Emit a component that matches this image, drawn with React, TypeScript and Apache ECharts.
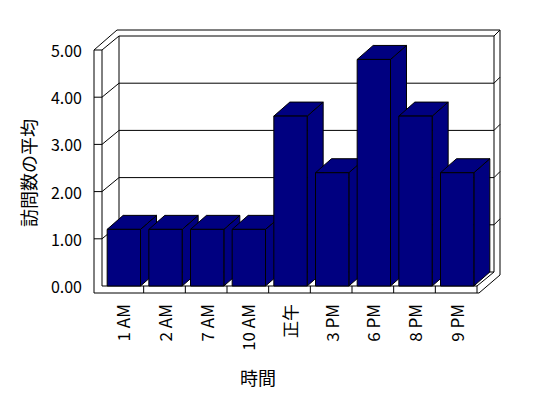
import React, { useEffect, useRef } from 'react';
import * as echarts from 'echarts';

const categories = ['1 AM', '2 AM', '7 AM', '10 AM', '正午', '3 PM', '6 PM', '8 PM', '9 PM'];
const visitAvg = [1.2, 1.2, 1.2, 1.2, 3.6, 2.4, 4.8, 3.6, 2.4];
const yTicks = [0, 1, 2, 3, 4, 5];
const yTitle = '訪問数の平均';
const xTitle = '時間';

const FONT = '"Noto Sans CJK JP", "Noto Sans", sans-serif';
const DX = 17;
const DY = -14;
const BAR_DX = 16;
const BAR_DY = -14;
const WALL = 8;
const FLOOR = 7;

export default function App() {
  const ref = useRef<HTMLDivElement>(null);
  useEffect(() => {
    document.body.style.margin = '0';
    const chart = echarts.init(ref.current!, null, { renderer: 'svg' });
    const lineStyle = { stroke: '#000', lineWidth: 1, fill: null };
    const option: any = {
      animation: false,
      backgroundColor: '#ffffff',
      grid: { left: 102, top: 50, width: 375, height: 236 },
      xAxis: {
        type: 'category',
        data: categories,
        axisLine: { show: false },
        axisTick: { show: false },
        splitLine: { show: false },
        axisLabel: { rotate: 90, margin: 18, fontSize: 17, color: '#000', fontFamily: FONT, interval: 0 },
      },
      yAxis: {
        type: 'value',
        min: yTicks[0],
        max: yTicks[yTicks.length - 1],
        interval: 1,
        axisLine: { show: false },
        axisTick: { show: false },
        splitLine: { show: false },
        axisLabel: { margin: 20, fontSize: 16, color: '#000', fontFamily: FONT, formatter: (v: number) => v.toFixed(2) },
      },
      graphic: [
        {
          type: 'text', x: 28, y: 173, rotation: Math.PI / 2,
          style: { text: yTitle, fontSize: 18, fontFamily: FONT, fill: '#000', align: 'center', verticalAlign: 'middle' },
        },
        {
          type: 'text', x: 258, y: 377,
          style: { text: xTitle, fontSize: 18, fontFamily: FONT, fill: '#000', align: 'center', verticalAlign: 'middle' },
        },
      ],
      series: [
        {
          type: 'custom',
          z: 1,
          silent: true,
          data: [[0, 0]],
          encode: { x: 0, y: 1 },
          renderItem: (params: any, api: any) => {
            const cs = params.coordSys;
            const x0 = cs.x, x1 = cs.x + cs.width, yT = cs.y, yB = cs.y + cs.height;
            const children: any[] = [];
            children.push({
              type: 'polygon',
              shape: {
                points: [
                  [x0 - WALL, yB + FLOOR], [x0 - WALL, yT], [x0 + DX - 2, yT + DY - 6],
                  [x1 + DX + 6, yT + DY - 6], [x1 + DX + 6, yB + DY + 3], [x1 + 2, yB + FLOOR],
                ],
              },
              style: { fill: '#fff', stroke: '#000', lineWidth: 1 },
            });
            const pl = (pts: number[][]) => children.push({ type: 'polyline', shape: { points: pts }, style: lineStyle });
            pl([[x0, yT], [x0, yB], [x1, yB], [x1, yB + FLOOR]]);
            pl([[x0 - WALL, yT], [x0, yT], [x0 + DX, yT + DY], [x1 + DX, yT + DY], [x1 + DX + 6, yT + DY - 6]]);
            pl([[x0 + DX, yT + DY], [x0 + DX, yB + DY], [x1 + DX, yB + DY]]);
            pl([[x1 + DX, yT + DY], [x1 + DX, yB + DY]]);
            pl([[x1, yB], [x1 + DX, yB + DY]]);
            yTicks.forEach((v) => {
              if (v === yTicks[0] || v === yTicks[yTicks.length - 1]) return;
              const y = api.coord([0, v])[1];
              pl([[x0 - WALL, y], [x0, y], [x0 + DX, y + DY], [x1 + DX, y + DY], [x1 + DX + 6, y + DY - 6]]);
            });
            const bw = cs.width / categories.length;
            for (let k = 1; k < categories.length; k++) {
              const x = x0 + k * bw;
              pl([[x, yB], [x, yB + FLOOR]]);
            }
            return { type: 'group', children };
          },
        },
        {
          type: 'custom',
          z: 2,
          data: categories.map((c, i) => [i, visitAvg[i]]),
          encode: { x: 0, y: 1 },
          renderItem: (params: any, api: any) => {
            const i = api.value(0);
            const v = api.value(1);
            const bw = api.size([1, 0])[0];
            const [cx, yTop] = api.coord([i, v]);
            const yBot = api.coord([i, 0])[1];
            const w = bw * 0.8;
            const l = cx - w / 2 + 1;
            const r = l + w;
            const st = { fill: '#000080', stroke: '#000', lineWidth: 1 };
            return {
              type: 'group',
              children: [
                { type: 'polygon', shape: { points: [[r, yTop], [r + BAR_DX, yTop + BAR_DY], [r + BAR_DX, yBot + BAR_DY], [r, yBot]] }, style: st },
                { type: 'polygon', shape: { points: [[l, yTop], [r, yTop], [r + BAR_DX, yTop + BAR_DY], [l + BAR_DX, yTop + BAR_DY]] }, style: st },
                { type: 'rect', shape: { x: l, y: yTop, width: w, height: yBot - yTop }, style: st },
              ],
            };
          },
        },
      ],
    };
    chart.setOption(option);
    return () => chart.dispose();
  }, []);
  return <div ref={ref} style={{ width: 548, height: 398 }} />;
}
